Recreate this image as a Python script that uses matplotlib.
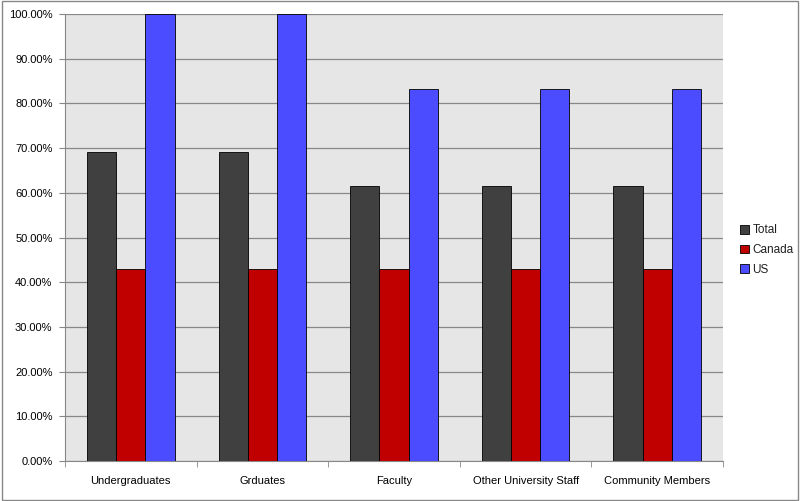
import matplotlib.pyplot as plt
import numpy as np
from matplotlib.ticker import PercentFormatter, FixedLocator
from matplotlib.patches import Rectangle

# data
categories = ["Undergraduates", "Grduates", "Faculty", "Other University Staff", "Community Members"]
total = [69.23, 69.23, 61.54, 61.54, 61.54]
canada = [42.86, 42.86, 42.86, 42.86, 42.86]
us = [100.0, 100.0, 83.33, 83.33, 83.33]

series = [("Total", total, "#404040"), ("Canada", canada, "#C00000"), ("US", us, "#4B4BFF")]

plt.rcParams['font.family'] = ['Liberation Sans', 'DejaVu Sans']
plt.rcParams['font.size'] = 8
plt.rcParams['text.color'] = "#202020"

fig = plt.figure(figsize=(8, 5.01), dpi=100)
ax = fig.add_axes([65/800, 40/501, 658/800, 447/501])
ax.set_facecolor("#E6E6E6")

x = np.arange(len(categories))
w = 0.222
for i, (name, vals, col) in enumerate(series):
    ax.bar(x + (i - 1) * w, vals, width=w, color=col, edgecolor="black",
           linewidth=0.6, label=name, zorder=3)

ax.set_xlim(-0.5, len(categories) - 0.5)
ax.set_ylim(0, 100)
ax.yaxis.set_major_locator(FixedLocator(np.arange(0, 101, 10)))
ax.yaxis.set_major_formatter(PercentFormatter(100, decimals=2))
ax.grid(axis="y", color="#888888", linewidth=0.9, zorder=0)

ax.set_xticks(x)
ax.set_xticklabels(categories)
ax.tick_params(axis="x", length=0, pad=11)
ax.set_xticks(np.arange(-0.5, len(categories)), minor=True)
ax.tick_params(axis="x", which="minor", length=4, color="#888888", direction="out")
ax.tick_params(axis="y", length=4, color="#888888", direction="out", pad=5)

for s in ["top", "right"]:
    ax.spines[s].set_visible(False)
ax.spines["left"].set_color("#888888")
ax.spines["bottom"].set_color("#888888")

ax.legend(loc="center left", bbox_to_anchor=(1.01, 0.472), frameon=False,
          handlelength=0.75, handleheight=0.75, handletextpad=0.3, labelspacing=0.65,
          fontsize=8.5)

# outer border
fig.patches.append(Rectangle((0.002, 0.002), 0.996, 0.996, transform=fig.transFigure,
                             fill=False, edgecolor="#888888", linewidth=1))

fig.savefig("out.png", dpi=100)
